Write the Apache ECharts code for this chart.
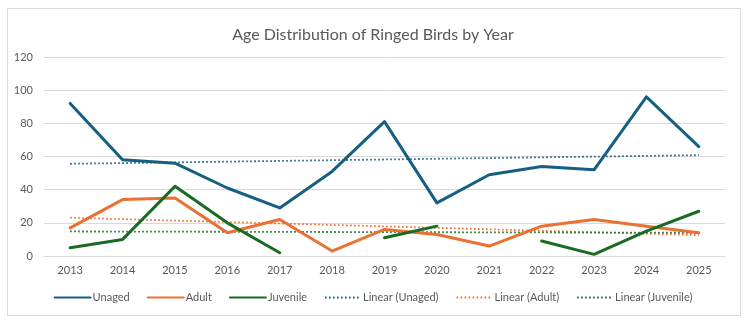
<!DOCTYPE html>
<html>
<head>
<meta charset="utf-8">
<script src="https://cdn.jsdelivr.net/npm/echarts@6/dist/echarts.min.js"></script>
<style>
html,body{margin:0;padding:0;background:#fff;}
#c{width:746px;height:322px;}
</style>
</head>
<body>
<div id="c"></div>
<script>
const years = ['2013','2014','2015','2016','2017','2018','2019','2020','2021','2022','2023','2024','2025'];
const unaged = [92, 58, 56, 41, 29, 51, 81, 32, 49, 54, 52, 96, 66];
const adult = [17, 34, 35, 14, 22, 3, 16, 13, 6, 18, 22, 18, 14];
const juvenile = [5, 10, 42, 20, 2, null, 11, 18, null, 9, 1, 15, 27];
// trendline end values (first year, last year)
const trendUnaged = [55.6, 60.8];
const trendAdult = [23.1, 12.6];
const trendJuvenile = [14.8, 14.0];
const yTicks = [0, 20, 40, 60, 80, 100, 120];

const C_UN = '#156082', C_AD = '#E97132', C_JU = '#196B24';
const FONT = 'Lato';

function trendData(ends) {
  return years.map((y, i) => i === 0 ? ends[0] : (i === years.length - 1 ? ends[1] : null));
}
function mainSeries(name, data, color) {
  return { name, type: 'line', data, symbol: 'none', connectNulls: false,
    lineStyle: { color, width: 3, cap: 'round', join: 'round' }, itemStyle: { color }, z: 3 };
}
function trendSeries(name, ends, color) {
  return { name, type: 'line', data: trendData(ends), symbol: 'none', connectNulls: true,
    lineStyle: { color, width: 1.8, type: [1.6, 2.4] }, itemStyle: { color }, z: 2 };
}

const chart = echarts.init(document.getElementById('c'), null, { renderer: 'canvas' });
chart.setOption({
  animation: false,
  backgroundColor: '#fff',
  textStyle: { fontFamily: FONT },
  graphic: [{ type: 'rect', shape: { x: 7.5, y: 8.5, width: 733, height: 307 },
    style: { fill: 'none', stroke: '#d9d9d9', lineWidth: 1 }, silent: true }],
  title: { text: 'Age Distribution of Ringed Birds by Year', left: 'center', top: 22,
    textStyle: { fontFamily: FONT, fontSize: 16, fontWeight: 'normal', color: '#595959' } },
  legend: { bottom: 14, left: 'center', itemWidth: 36, itemHeight: 10, itemGap: 17,
    itemStyle: { opacity: 0, borderWidth: 0 },
    textStyle: { fontFamily: FONT, fontSize: 11, color: '#595959', padding: [0, 0, 0, -3] },
    data: ['Unaged', 'Adult', 'Juvenile', 'Linear (Unaged)', 'Linear (Adult)', 'Linear (Juvenile)'] },
  grid: { left: 44, right: 21, top: 57, bottom: 66 },
  xAxis: { type: 'category', data: years, boundaryGap: true,
    axisLine: { lineStyle: { color: '#d9d9d9' } }, axisTick: { show: false },
    axisLabel: { color: '#595959', fontSize: 11, margin: 9, fontFamily: FONT } },
  yAxis: { type: 'value', min: yTicks[0], max: yTicks[yTicks.length - 1], interval: 20,
    axisLine: { show: false }, axisTick: { show: false },
    splitLine: { lineStyle: { color: '#d9d9d9' } },
    axisLabel: { color: '#595959', fontSize: 11, margin: 11, fontFamily: FONT } },
  series: [
    mainSeries('Unaged', unaged, C_UN),
    mainSeries('Adult', adult, C_AD),
    mainSeries('Juvenile', juvenile, C_JU),
    trendSeries('Linear (Unaged)', trendUnaged, C_UN),
    trendSeries('Linear (Adult)', trendAdult, C_AD),
    trendSeries('Linear (Juvenile)', trendJuvenile, C_JU)
  ]
});
</script>
</body>
</html>
